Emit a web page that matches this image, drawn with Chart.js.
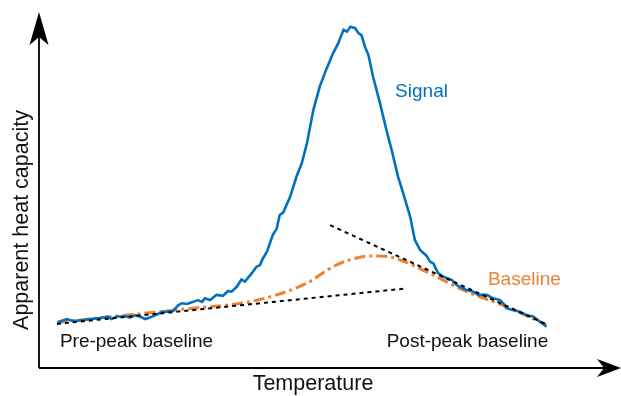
<!DOCTYPE html>
<html>
<head>
<meta charset="utf-8">
<script src="https://cdn.jsdelivr.net/npm/chart.js@4"></script>
<style>
  html, body { margin: 0; padding: 0; background: #fff; }
  #wrap { width: 621px; height: 396px; }
</style>
</head>
<body>
<div id="wrap"><canvas id="myChart" width="621" height="396"></canvas></div>
<script>
// temperature / heat capacity in arbitrary units (0..100)
const signalT = [3.2, 4.8, 5.9, 7.6, 8.8, 10.5, 11.9, 12.5, 13.4, 15.1, 15.7, 16.6, 17.4, 18.3, 19.1, 20.3, 21.4, 22.6, 23.1, 24.0,
  24.6, 25.5, 26.6, 27.4, 28.1, 28.6, 29.5, 30.6, 31.7, 32.6, 33.2, 34.1, 34.9, 35.5, 36.7, 37.5, 38.1, 38.6, 39.3, 39.8,
  40.3, 41.0, 41.5, 42.1, 43.3, 44.4, 45.3, 46.2, 47.3, 48.4, 49.6, 50.7, 51.6, 52.5, 53.1, 53.7, 54.5, 55.1, 55.6, 56.2,
  56.8, 57.6, 58.8, 59.9, 60.8, 61.9, 62.8, 64.0, 64.8, 65.7, 66.8, 67.4, 68.0, 68.8, 69.7, 71.2, 72.0, 72.6, 73.7, 74.9,
  75.7, 77.2, 78.3, 79.5, 80.3, 80.6, 81.7, 82.9, 84.1, 85.2, 86.4, 87.5];
const signalCp = [13.1, 14.0, 13.4, 13.7, 14.0, 14.3, 14.7, 14.0, 14.7, 14.7, 14.4, 15.1, 14.7, 14.0, 14.4, 15.3, 16.1, 16.1, 16.3, 17.9,
  18.5, 18.3, 18.9, 19.4, 18.9, 19.9, 19.4, 20.9, 20.6, 22.0, 21.8, 23.2, 25.3, 24.7, 27.1, 28.9, 29.4, 31.3, 33.2, 35.6,
  38.0, 39.9, 43.7, 44.4, 48.9, 54.7, 58.5, 64.2, 73.7, 80.4, 85.6, 89.9, 92.8, 96.6, 96.1, 97.5, 97.1, 95.6, 95.1, 91.8,
  89.4, 83.2, 75.6, 68.0, 62.3, 54.7, 49.9, 43.2, 36.6, 33.7, 32.1, 30.4, 29.9, 27.1, 26.1, 25.1, 23.7, 23.2, 22.3, 21.8,
  20.9, 20.9, 19.9, 19.4, 18.0, 17.1, 16.6, 16.1, 15.1, 14.7, 13.2, 11.8];

const baselineT = [3.1, 10.5, 20.9, 26.6, 35.2, 41.0, 46.7, 49.7, 51.9, 54.5, 57.1, 59.7, 62.2, 67.9, 73.8, 80.6, 87.5];
const baselineCp = [13.0, 14.3, 16.1, 17.1, 18.6, 20.9, 24.7, 28.0, 29.9, 31.3, 32.0, 31.9, 30.9, 26.6, 21.8, 17.5, 12.3];

const preT = [3.1, 63.1];
const preCp = [12.6, 22.7];
const postT = [50.2, 87.6];
const postCp = [40.8, 12.4];

const blue = '#0072BD';
const orange = '#EF8132';

function pts(xs, ys) {
  return xs.map((x, i) => ({x: x, y: ys[i]}));
}

const labelsPlugin = {
  id: 'labels',
  afterDatasetsDraw(chart) {
    const ctx = chart.ctx;
    const xs = chart.scales.x, ys = chart.scales.y;
    const a = chart.chartArea;
    ctx.save();
    // axes with arrow heads
    ctx.strokeStyle = '#000';
    ctx.fillStyle = '#000';
    ctx.lineWidth = 1.8;
    ctx.beginPath();
    ctx.moveTo(a.left, a.bottom);
    ctx.lineTo(a.left, 30);
    ctx.moveTo(a.left, a.bottom);
    ctx.lineTo(605, a.bottom);
    ctx.stroke();
    ctx.beginPath();
    ctx.moveTo(a.left, 12);
    ctx.lineTo(a.left + 9.5, 45);
    ctx.lineTo(a.left, 37);
    ctx.lineTo(a.left - 9.5, 45);
    ctx.closePath();
    ctx.fill();
    ctx.beginPath();
    ctx.moveTo(621, a.bottom);
    ctx.lineTo(597, a.bottom - 9);
    ctx.lineTo(604, a.bottom);
    ctx.lineTo(597, a.bottom + 9);
    ctx.closePath();
    ctx.fill();

    ctx.font = '19px "Liberation Sans", Arial, sans-serif';
    ctx.textBaseline = 'middle';
    ctx.textAlign = 'left';
    ctx.fillStyle = blue;
    ctx.fillText('Signal', xs.getPixelForValue(61.4), ys.getPixelForValue(78.9));
    ctx.fillStyle = orange;
    ctx.fillText('Baseline', xs.getPixelForValue(77.4), ys.getPixelForValue(25.1));
    ctx.fillStyle = '#111';
    ctx.fillText('Pre-peak baseline', xs.getPixelForValue(3.6), ys.getPixelForValue(7.4));
    ctx.textAlign = 'right';
    ctx.fillText('Post-peak baseline', xs.getPixelForValue(87.8), ys.getPixelForValue(7.4));
    ctx.font = '21.5px "Liberation Sans", Arial, sans-serif';
    ctx.textAlign = 'center';
    ctx.fillText('Temperature', 313, 384);
    ctx.translate(22, 220);
    ctx.rotate(-Math.PI / 2);
    ctx.fillText('Apparent heat capacity', 0, 0);
    ctx.restore();
  }
};

const ctx = document.getElementById('myChart');
new Chart(ctx, {
  type: 'line',
  data: {
    datasets: [
      {
        label: 'Pre-peak baseline',
        data: pts(preT, preCp),
        borderColor: '#000',
        borderWidth: 2,
        borderDash: [4, 4],
        pointRadius: 0
      },
      {
        label: 'Post-peak baseline',
        data: pts(postT, postCp),
        borderColor: '#000',
        borderWidth: 2,
        borderDash: [4, 4],
        pointRadius: 0
      },
      {
        label: 'Signal',
        data: pts(signalT, signalCp),
        borderColor: blue,
        borderWidth: 2.6,
        pointRadius: 0,
        tension: 0
      },
      {
        label: 'Baseline',
        data: pts(baselineT, baselineCp),
        borderColor: orange,
        borderWidth: 3,
        borderDash: [11, 4, 3, 4],
        pointRadius: 0,
        cubicInterpolationMode: 'monotone'
      }
    ]
  },
  options: {
    responsive: false,
    animation: false,
    events: [],
    layout: { padding: { left: 39, right: 2, top: 18, bottom: 28 } },
    plugins: { legend: { display: false }, tooltip: { enabled: false } },
    scales: {
      x: { type: 'linear', min: 0, max: 100, display: false },
      y: { type: 'linear', min: 0, max: 100, display: false }
    }
  },
  plugins: [labelsPlugin]
});
</script>
</body>
</html>
